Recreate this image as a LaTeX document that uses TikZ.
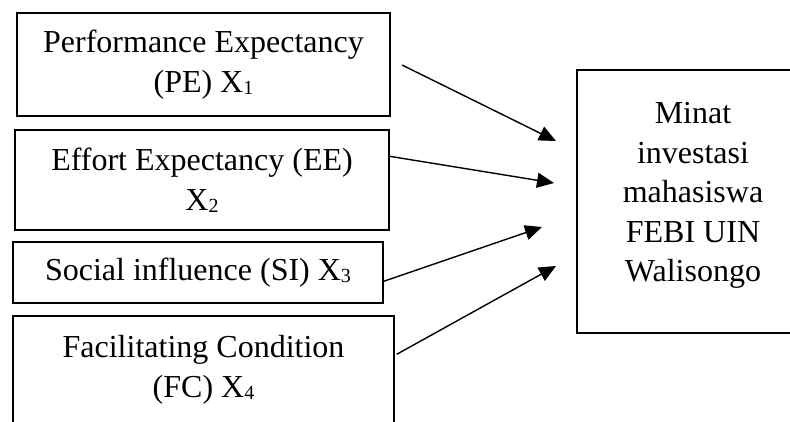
\documentclass[tikz,border=0pt]{standalone}
\usepackage{fontspec}
\setmainfont{Liberation Serif}
\usetikzlibrary{arrows.meta,calc}
% small lowered index after a variable name
\newcommand\xsub[1]{\raisebox{-2pt}{\fontsize{20}{20}\selectfont #1}}

\begin{document}
\begin{tikzpicture}[x=1pt,y=-1pt,
  box/.style={draw, line width=1.4pt, inner sep=0pt, align=center,
              font=\fontsize{32}{40}\selectfont},
  plain/.style={inner sep=0pt, align=center, font=\fontsize{32}{39.5}\selectfont},
  link/.style={line width=1.4pt, -{Triangle[length=17pt,width=15pt]}}]
\useasboundingbox (0,0) rectangle (790,421);
\clip (0,0) rectangle (790,421);

% independent variables
\node[box, minimum width=373pt, minimum height=103pt] (pe) at (203.5,64.5)
  {Performance Expectancy\\(PE) X\xsub{1}};
\node[box, minimum width=374pt, minimum height=100pt] (ee) at (202,180)
  {Effort Expectancy (EE)\\X\xsub{2}};
\node[box, minimum width=370pt, minimum height=61pt] (si) at (198,272.5)
  {Social influence (SI) X\xsub{3}};
\node[box, minimum width=381pt, minimum height=108pt] (fc) at (203.5,370)
  {Facilitating Condition\\(FC) X\xsub{4}};

% dependent variable
\node[draw, line width=1.4pt, minimum width=232pt, minimum height=263pt] (dv) at (693,201.5) {};
\node[plain] (dvtext) at ($(dv.center)+(0,-6)$)
  {Minat\\investasi\\mahasiswa\\FEBI UIN\\Walisongo};

% arrow heads stop short of the box
\coordinate (s1) at (402,65);
\coordinate (t1) at (556,141);
\coordinate (t2) at (554,183);
\coordinate (t3) at (542,227);
\coordinate (t4) at (556,266);

\draw[link] (s1) -- (t1);
\draw[link] ($(ee.north east)+(0,27)$) -- (t2);
\draw[link] ($(si.north east)+(0,40)$) -- (t3);
\draw[link] ($(fc.north east)+(2,39)$) -- (t4);
\end{tikzpicture}
\end{document}
